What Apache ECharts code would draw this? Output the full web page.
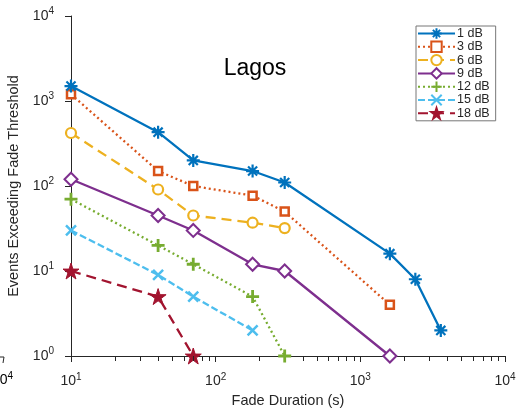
<!DOCTYPE html>
<html>
<head>
<meta charset="utf-8">
<script src="https://cdn.jsdelivr.net/npm/echarts@6/dist/echarts.min.js"></script>
<style>html,body{margin:0;padding:0;background:#fff}#c{width:517px;height:413px}</style>
</head>
<body>
<div id="c"></div>
<script>
var seriesNames = ['1 dB', '3 dB', '6 dB', '9 dB', '12 dB', '15 dB', '18 dB'];
var dur1 = [10, 40, 70, 180, 300, 1600, 2400, 3600];
var ev1  = [1500, 430, 200, 150, 110, 16, 8, 2];
var dur3 = [10, 40, 70, 180, 300, 1600];
var ev3  = [1200, 150, 100, 77, 50, 4];
var dur6 = [10, 40, 70, 180, 300];
var ev6  = [420, 91, 45, 37, 32];
var dur9 = [10, 40, 70, 180, 300, 1600];
var ev9  = [120, 45, 30, 12, 10, 1];
var dur12 = [10, 40, 70, 180, 300];
var ev12  = [70, 20, 12, 5, 1];
var dur15 = [10, 40, 70, 180];
var ev15  = [30, 9, 5, 2];
var dur18 = [10, 40, 70];
var ev18  = [10, 5, 1];
var xMinorTicks = [20, 30, 40, 50, 60, 70, 80, 90, 200, 300, 400, 500, 600, 700, 800, 900, 2000, 3000, 4000, 5000, 6000, 7000, 8000, 9000];

function pairs(xs, ys) { return xs.map(function (x, i) { return [x, ys[i]]; }); }

var colors = ['#0072BD', '#D95319', '#EDB120', '#7E2F8E', '#77AC30', '#4DBEEE', '#A2142F'];
var AST = 'path://M5,0L5,10M0,5L10,5M1.5,1.5L8.5,8.5M8.5,1.5L1.5,8.5';
var PLUS = 'path://M5,0L5,10M0,5L10,5';
var XMARK = 'path://M0,0L10,10M10,0L0,10';
var STAR = 'path://M50,0L61.8,36.2L100,36.2L69.1,58.6L80.9,95.1L50,72.6L19.1,95.1L30.9,58.6L0,36.2L38.2,36.2Z';

var styles = [
  {d: pairs(dur1, ev1), type: 'solid', sym: AST, size: 13, fill: 'none', bw: 2.2},
  {d: pairs(dur3, ev3), type: [2, 3], sym: 'rect', size: 8, fill: '#fff', bw: 2.5},
  {d: pairs(dur6, ev6), type: [10, 6], sym: 'circle', size: 10, fill: '#fff', bw: 2.2},
  {d: pairs(dur9, ev9), type: 'solid', sym: 'diamond', size: 13, fill: '#fff', bw: 2},
  {d: pairs(dur12, ev12), type: [2, 3], sym: PLUS, size: 13, fill: 'none', bw: 2.8},
  {d: pairs(dur15, ev15), type: [7, 3], sym: XMARK, size: 10, fill: 'none', bw: 2.5},
  {d: pairs(dur18, ev18), type: [10, 6], sym: STAR, size: 16, fill: colors[6], bw: 1}
];

var TXT = '#262626';
var FONT = '"Liberation Sans", Arial, sans-serif';

function expLabel(v) {
  var e = Math.round(Math.log(v) / Math.LN10);
  return '{b|10}{s|' + e + '}';
}
var rich = {
  b: {fontSize: 14, color: TXT, fontFamily: FONT},
  s: {fontSize: 10, color: TXT, fontFamily: FONT, verticalAlign: 'bottom', padding: [0, 0, 9, 0]}
};

var series = styles.map(function (s, i) {
  return {
    name: seriesNames[i],
    type: 'line',
    data: s.d,
    symbol: s.sym,
    symbolSize: s.size,
    showAllSymbol: true,
    animation: false,
    lineStyle: {color: colors[i], width: 2.3, type: s.type},
    itemStyle: {color: s.fill === 'none' ? colors[i] : s.fill, borderColor: colors[i], borderWidth: s.bw, opacity: 1},
    emphasis: {disabled: true},
    z: 10 - i
  };
});

var chart = echarts.init(document.getElementById('c'), null, {renderer: 'canvas'});
chart.setOption({
  backgroundColor: '#fff',
  animation: false,
  title: {
    text: 'Lagos', left: 250, top: 52, textAlign: 'center',
    textStyle: {fontSize: 23, fontWeight: 'normal', color: '#000', fontFamily: FONT}
  },
  legend: {
    data: seriesNames,
    orient: 'vertical',
    left: 416, top: 26,
    itemWidth: 37, itemHeight: 13, itemGap: 0.3,
    padding: [1, 6, 1, 1],
    borderColor: '#777', borderWidth: 1,
    backgroundColor: '#fff',
    textStyle: {fontSize: 12.5, lineHeight: 13, color: TXT, fontFamily: FONT, padding: [0, 0, 0, -3]}
  },
  grid: {left: 71, right: 12, top: 16, bottom: 57, containLabel: false, outerBoundsMode: 'none'},
  xAxis: {
    type: 'log', logBase: 10, min: 10, max: 10000,
    name: 'Fade Duration (s)', nameLocation: 'middle', nameGap: 35,
    nameTextStyle: {fontSize: 14.5, color: TXT, fontFamily: FONT},
    axisLine: {lineStyle: {color: TXT, width: 1}},
    axisTick: {show: true, length: 6, inside: false, lineStyle: {color: TXT}},
    axisLabel: {formatter: expLabel, rich: rich, margin: 16},
    splitLine: {show: false}
  },
  yAxis: {
    type: 'log', logBase: 10, min: 1, max: 10000,
    name: 'Events Exceeding Fade Threshold', nameLocation: 'middle', nameGap: 44,
    nameTextStyle: {fontSize: 14.5, color: TXT, fontFamily: FONT},
    axisLine: {show: true, lineStyle: {color: TXT, width: 1}},
    axisTick: {show: true, length: 6, inside: false, lineStyle: {color: TXT}},
    axisLabel: {formatter: expLabel, rich: rich, margin: 17},
    splitLine: {show: false}
  },
  series: series
});

var gfx = [
  {type: 'text', left: -8, top: 371, style: {text: '{b|10}{s|4}', rich: rich}},
  {type: 'line', shape: {x1: 0, y1: 357, x2: 4, y2: 357}, style: {stroke: TXT, lineWidth: 1}},
  {type: 'line', shape: {x1: 4, y1: 357, x2: 3, y2: 363}, style: {stroke: TXT, lineWidth: 1}}
];
xMinorTicks.forEach(function (v) {
  var p = chart.convertToPixel({gridIndex: 0}, [v, 1]);
  var x = Math.round(p[0]) + 0.5;
  gfx.push({type: 'line', shape: {x1: x, y1: p[1], x2: x, y2: p[1] + 5}, style: {stroke: TXT, lineWidth: 1}, z: 5});
});
chart.setOption({graphic: gfx});
</script>
</body>
</html>
